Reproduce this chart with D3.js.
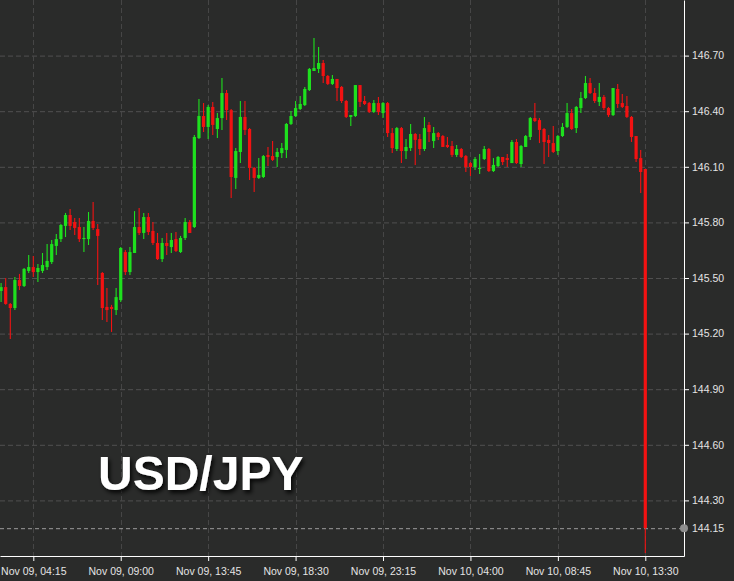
<!DOCTYPE html>
<html>
<head>
<meta charset="utf-8">
<script src="https://cdn.jsdelivr.net/npm/d3@7"></script>
<style>
  body { margin: 0; background: #2a2b2a; }
  svg { display: block; }
  .axis text { font-family: "Liberation Sans", Arial, sans-serif; font-size: 10.5px; fill: #e4e4e4; }
  .axis path, .axis line { stroke: #ffffff; }
</style>
</head>
<body>
<svg id="chart" width="734" height="581"></svg>
<script>
// 15 minute USD/JPY candles, Nov 09 02:30 -> Nov 10 13:30 (UTC)
let firstBar = Date.UTC(2022, 10, 9, 2, 30);
let barMinutes = 15;

let opens = [
  145.430,145.451,145.360,145.338,145.489,145.457,145.538,145.559,145.532,145.538,
  145.559,145.586,145.673,145.710,145.781,145.840,145.802,145.775,145.710,145.710,
  145.808,145.764,145.527,145.344,145.344,145.327,145.381,145.640,145.532,145.635,
  145.775,145.743,145.829,145.754,145.689,145.602,145.689,145.667,145.710,145.640,
  145.716,145.802,145.775,146.255,146.374,146.315,146.423,146.304,146.363,146.498,
  146.406,146.040,146.180,146.369,146.304,146.094,146.040,146.045,146.164,146.158,
  146.153,146.174,146.191,146.331,146.374,146.412,146.433,146.514,146.617,146.628,
  146.660,146.590,146.547,146.574,146.531,146.455,146.369,146.374,146.541,146.455,
  146.444,146.396,146.444,146.390,146.444,146.282,146.196,146.309,146.185,146.201,
  146.277,146.250,146.196,146.326,146.239,146.282,146.266,146.218,146.212,146.164,
  146.196,146.158,146.120,146.099,146.088,146.142,146.196,146.077,146.104,146.153,
  146.147,146.120,146.234,146.115,146.207,146.261,146.363,146.352,146.304,146.245,
  146.228,146.185,146.266,146.315,146.390,146.309,146.417,146.471,146.552,146.498,
  146.450,146.477,146.417,146.379,146.520,146.444,146.428,146.369,146.266,146.147,
  146.088
];
let highs = [
  145.473,145.500,145.365,145.505,145.522,145.554,145.624,145.619,145.576,145.635,
  145.683,145.705,145.737,145.791,145.851,145.872,145.824,145.824,145.775,145.856,
  145.910,145.791,145.532,145.446,145.355,145.446,145.667,145.651,145.667,145.861,
  145.878,145.851,145.851,145.802,145.743,145.716,145.743,145.743,145.748,145.727,
  145.824,145.813,146.272,146.466,146.444,146.433,146.450,146.390,146.579,146.514,
  146.412,146.201,146.455,146.455,146.309,146.099,146.147,146.164,146.207,146.239,
  146.201,146.228,146.336,146.401,146.455,146.482,146.531,146.633,146.795,146.746,
  146.676,146.595,146.595,146.574,146.536,146.460,146.379,146.541,146.541,146.482,
  146.450,146.460,146.477,146.450,146.450,146.309,146.315,146.315,146.250,146.331,
  146.282,146.277,146.369,146.342,146.315,146.288,146.272,146.261,146.239,146.218,
  146.201,146.164,146.126,146.153,146.169,146.212,146.201,146.147,146.158,146.153,
  146.169,146.245,146.250,146.218,146.272,146.369,146.444,146.363,146.309,146.272,
  146.320,146.272,146.336,146.444,146.412,146.428,146.504,146.590,146.579,146.525,
  146.552,146.487,146.423,146.525,146.547,146.493,146.482,146.374,146.266,146.191,
  146.088
];
let lows = [
  145.370,145.355,145.171,145.327,145.435,145.451,145.527,145.505,145.478,145.527,
  145.543,145.576,145.624,145.694,145.721,145.759,145.732,145.694,145.640,145.678,
  145.759,145.462,145.273,145.263,145.209,145.300,145.370,145.516,145.516,145.635,
  145.732,145.710,145.732,145.678,145.597,145.586,145.624,145.635,145.640,145.635,
  145.705,145.743,145.770,146.250,146.288,146.250,146.272,146.255,146.299,146.352,
  145.932,145.980,146.120,146.272,146.029,145.964,146.034,146.040,146.104,146.131,
  146.099,146.147,146.147,146.326,146.369,146.406,146.428,146.509,146.617,146.606,
  146.552,146.541,146.541,146.455,146.444,146.363,146.320,146.369,146.423,146.433,
  146.390,146.390,146.379,146.363,146.261,146.174,146.185,146.120,146.142,146.185,
  146.110,146.164,146.185,146.234,146.201,146.245,146.207,146.201,146.153,146.153,
  146.147,146.072,146.050,146.083,146.061,146.137,146.072,146.072,146.099,146.110,
  146.099,146.120,146.115,146.099,146.207,146.245,146.342,146.228,146.115,146.153,
  146.174,146.164,146.261,146.309,146.299,146.282,146.390,146.466,146.493,146.444,
  146.428,146.406,146.369,146.374,146.417,146.417,146.363,146.234,146.126,145.959,
  144.016
];
let closes = [
  145.451,145.360,145.338,145.489,145.457,145.549,145.559,145.532,145.554,145.570,
  145.592,145.683,145.710,145.786,145.840,145.781,145.770,145.710,145.716,145.808,
  145.770,145.727,145.338,145.327,145.333,145.397,145.662,145.532,145.640,145.775,
  145.743,145.829,145.748,145.689,145.602,145.689,145.673,145.705,145.646,145.716,
  145.802,145.743,146.261,146.374,146.315,146.423,146.326,146.363,146.498,146.406,
  146.045,146.185,146.369,146.299,146.094,146.040,146.056,146.158,146.153,146.137,
  146.180,146.201,146.331,146.374,146.417,146.439,146.520,146.628,146.633,146.660,
  146.590,146.547,146.574,146.525,146.455,146.369,146.379,146.541,146.450,146.439,
  146.396,146.444,146.396,146.444,146.282,146.201,146.309,146.185,146.207,146.277,
  146.245,146.196,146.309,146.288,146.282,146.261,146.207,146.207,146.164,146.196,
  146.153,146.099,146.099,146.142,146.094,146.196,146.077,146.110,146.153,146.126,
  146.137,146.234,146.120,146.212,146.266,146.363,146.347,146.299,146.234,146.228,
  146.180,146.266,146.315,146.390,146.304,146.423,146.471,146.552,146.498,146.455,
  146.477,146.417,146.379,146.525,146.439,146.423,146.369,146.261,146.142,146.072,
  144.151
];

let priceTicks = [144.30, 144.60, 144.90, 145.20, 145.50, 145.80, 146.10, 146.40, 146.70];
let timeTicks = [
  "2022-11-09T04:15Z", "2022-11-09T09:00Z", "2022-11-09T13:45Z", "2022-11-09T18:30Z",
  "2022-11-09T23:15Z", "2022-11-10T04:00Z", "2022-11-10T08:45Z", "2022-11-10T13:30Z"
].map(s => new Date(s));
let lastPrice = 144.15;
let title = "USD/JPY";

let svg = d3.select("#chart");
let plotW = 684, plotH = 556;
let up = "#1ee01e", down = "#f21212";

// time scale pinned on first/last tick, then stretched over the whole plot
let x = d3.scaleUtc()
  .domain([timeTicks[0], timeTicks[timeTicks.length - 1]])
  .range([33.3, 645.3]);
x.domain([x.invert(0), x.invert(plotW)]).range([0, plotW]);

let y = d3.scaleLinear().domain([144.0, 147.0]).range([plotH, 0]);

let bars = opens.map((o, i) => ({
  t: new Date(firstBar + i * barMinutes * 60000),
  o, h: highs[i], l: lows[i], c: closes[i]
}));
let step = x(bars[1].t) - x(bars[0].t);
let bodyW = step * 0.7;

let defs = svg.append("defs");
defs.append("clipPath").attr("id", "plot")
  .append("rect").attr("width", plotW).attr("height", plotH);
defs.append("filter").attr("id", "shadow")
  .attr("x", "-10%").attr("y", "-20%").attr("width", "130%").attr("height", "160%")
  .append("feDropShadow")
  .attr("dx", 2).attr("dy", 3).attr("stdDeviation", 2)
  .attr("flood-color", "#000").attr("flood-opacity", 0.85);

// dashed grid
let grid = svg.append("g");
grid.selectAll(".h").data(priceTicks).enter().append("line")
  .attr("x1", 0).attr("x2", plotW)
  .attr("y1", d => y(d) + 0.5).attr("y2", d => y(d) + 0.5)
  .attr("stroke", "#505050").attr("stroke-dasharray", "5,3");
grid.selectAll(".v").data(timeTicks).enter().append("line")
  .attr("x1", d => Math.round(x(d)) + 0.5).attr("x2", d => Math.round(x(d)) + 0.5)
  .attr("y1", 0).attr("y2", plotH)
  .attr("stroke", "#464646").attr("stroke-dasharray", "5,3");

// last price line
svg.append("line")
  .attr("x1", 0).attr("x2", plotW)
  .attr("y1", y(lastPrice) + 0.5).attr("y2", y(lastPrice) + 0.5)
  .attr("stroke", "#9c9c9c").attr("stroke-dasharray", "4,3");

// candles
let candles = svg.append("g").attr("clip-path", "url(#plot)")
  .selectAll("g").data(bars).enter().append("g")
  .attr("transform", d => `translate(${x(d.t)}, 0)`);
candles.append("line")
  .attr("y1", d => y(d.h)).attr("y2", d => y(d.l))
  .attr("stroke", d => d.c >= d.o ? up : down)
  .attr("stroke-width", 1.1);
candles.append("rect")
  .attr("x", -bodyW / 2)
  .attr("width", bodyW)
  .attr("y", d => y(Math.max(d.o, d.c)))
  .attr("height", d => Math.max(1, Math.abs(y(d.o) - y(d.c))))
  .attr("fill", d => d.c >= d.o ? up : down);

svg.append("text")
  .attr("x", 98).attr("y", 490)
  .attr("font-family", "Liberation Sans, Arial, sans-serif")
  .attr("font-weight", "bold").attr("font-size", 48)
  .attr("fill", "#ffffff")
  .attr("filter", "url(#shadow)")
  .text(title);

// axes
svg.append("g").attr("class", "axis")
  .attr("transform", `translate(0, ${plotH})`)
  .call(d3.axisBottom(x).tickValues(timeTicks).tickSize(5).tickSizeOuter(0)
    .tickFormat(d3.utcFormat("%b %d, %H:%M")))
  .selectAll("text").attr("dy", "1.05em");

svg.append("g").attr("class", "axis")
  .attr("transform", `translate(${plotW}, 0)`)
  .call(d3.axisRight(y).tickValues(priceTicks).tickSize(5).tickSizeOuter(0)
    .tickFormat(d3.format(".2f")))
  .selectAll("text").attr("x", 8);

svg.append("circle")
  .attr("cx", plotW).attr("cy", y(lastPrice)).attr("r", 4)
  .attr("fill", "#8e8e8e");
svg.append("text").attr("class", "axis")
  .attr("x", plotW + 8).attr("y", y(lastPrice)).attr("dy", "0.32em")
  .attr("font-family", "Liberation Sans, Arial, sans-serif")
  .attr("font-size", 10.5).attr("fill", "#e4e4e4")
  .text(d3.format(".2f")(lastPrice));
</script>
</body>
</html>
